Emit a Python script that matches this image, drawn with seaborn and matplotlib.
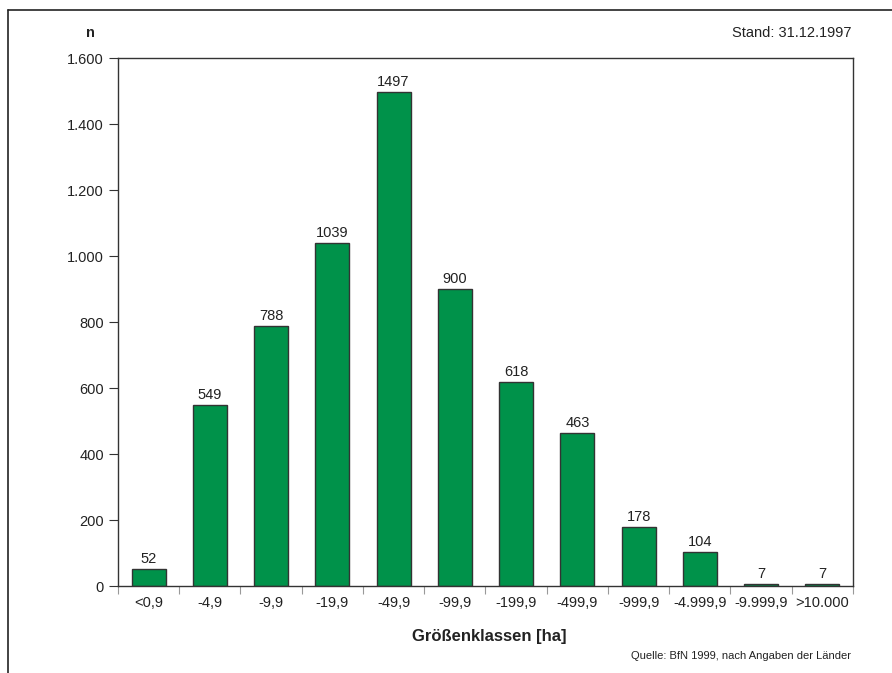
import pandas as pd
import matplotlib.pyplot as plt
import matplotlib.ticker as mticker
from matplotlib.lines import Line2D
import seaborn as sns

klassen = ["<0,9", "-4,9", "-9,9", "-19,9", "-49,9", "-99,9", "-199,9",
           "-499,9", "-999,9", "-4.999,9", "-9.999,9", ">10.000"]
anzahl = [52, 549, 788, 1039, 1497, 900, 618, 463, 178, 104, 7, 7]
y_ticks = [0, 200, 400, 600, 800, 1000, 1200, 1400, 1600]

df = pd.DataFrame({"klasse": klassen, "n": anzahl})

sns.set_style("white")
plt.rcParams['font.family'] = ['Liberation Sans', 'DejaVu Sans']

fig = plt.figure(figsize=(8.92, 6.73), dpi=100)
ax = fig.add_axes([118/892, 1 - 586/673, (853-118)/892, (586-58)/673])

sns.barplot(data=df, x="klasse", y="n", color="#00924A", width=0.555,
            edgecolor="#333333", linewidth=1.0, saturation=1, ax=ax)

for c in ax.containers:
    ax.bar_label(c, padding=2, fontsize=10.5, color="#222222")

ax.set_xlim(-0.5, 11.5)
ax.set_ylim(0, 1600)
ax.set_yticks(y_ticks)
ax.yaxis.set_major_formatter(mticker.FuncFormatter(
    lambda v, p: f"{int(v):,}".replace(",", ".")))
ax.tick_params(axis="y", length=6.5, width=0.8, color="#333333",
               labelsize=10.5, pad=3.5, labelcolor="#222222", left=True)
ax.tick_params(axis="x", length=0, labelsize=10.5, pad=7.5, labelcolor="#222222")
ax.set_xticks([i - 0.5 for i in range(13)], minor=True)
ax.tick_params(axis="x", which="minor", length=6, width=0.8, color="#999999",
               direction="out", bottom=True)
ax.set_xlabel("")
ax.set_ylabel("")
for s in ax.spines.values():
    s.set_color("#333333")
    s.set_linewidth(1.0)

fig.text(90/892, 1 - 33/673, "n", fontsize=10.5, fontweight="bold",
         ha="center", va="center", color="#222222")
fig.text(852/892, 1 - 33/673, "Stand: 31.12.1997", fontsize=10.5,
         ha="right", va="center", color="#222222")
fig.text(489/892, 1 - 637/673, "Größenklassen [ha]", fontsize=12,
         fontweight="bold", ha="center", va="center", color="#222222")
fig.text(851/892, 1 - 656/673, "Quelle: BfN 1999, nach Angaben der Länder",
         fontsize=8, ha="right", va="center", color="#222222")

# Rahmen oben und links
fig.add_artist(Line2D([8/892, 1], [1 - 10/673, 1 - 10/673], color="#222222", lw=1.2))
fig.add_artist(Line2D([8/892, 8/892], [0, 1 - 10/673], color="#222222", lw=1.2))

fig.savefig("out.png", dpi=100)
